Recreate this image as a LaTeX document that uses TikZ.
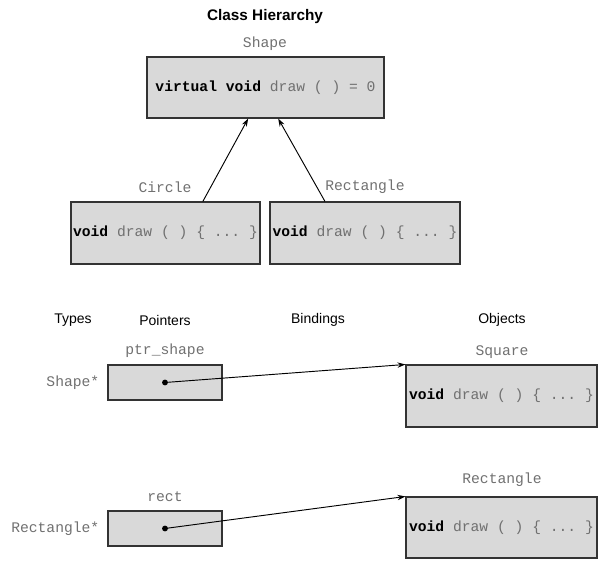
\documentclass[tikz,border=0pt]{standalone}
\usepackage{fontspec}
\setmainfont{Liberation Sans}
\setmonofont{Liberation Mono}
\usetikzlibrary{arrows.meta}
\definecolor{boxgray}{HTML}{D9D9D9}
\definecolor{codegray}{HTML}{707070}
\tikzset{
  classbox/.style={draw=black!80, fill=boxgray, line width=0.8pt, inner sep=0pt},
  codelabel/.style={font=\fontsize{11}{13}\selectfont\ttfamily, text=codegray},
  header/.style={font=\fontsize{10.5}{12}\selectfont},
  link/.style={-{Stealth[length=6pt,width=4pt]}, line width=0.7pt}
}
\newcommand{\kw}[1]{\textcolor{black}{\textbf{#1}}}
\begin{document}
\begin{tikzpicture}[x=0.75pt, y=-0.75pt]
        \useasboundingbox (0,0) rectangle (607,570);
        % Class Hierarchy
        \node[font=\fontsize{11.5}{13}\selectfont\bfseries] (title) at (265,17) {Class Hierarchy};
        \node[codelabel] (shapelbl) at (265,44) {Shape};
        \node[classbox, codelabel, minimum width=177.75pt, minimum height=45.75pt] (shape) at (265.5,87.5) {\kw{virtual} \kw{void} draw ( ) = 0};
        
        \node[codelabel] (circlelbl) at (165,187) {Circle};
        \node[classbox, codelabel, minimum width=141.75pt, minimum height=46.5pt] (circle) at (165.5,233) {\kw{void} draw ( ) \{ ... \}};
        
        \node[codelabel] (rectlbl) at (365,187) {Rectangle};
        \node[classbox, codelabel, minimum width=142.5pt, minimum height=46.5pt] (rectangle) at (365,233) {\kw{void} draw ( ) \{ ... \}};
        
        \draw[link] ([xshift=28pt]circle.north) -- ([xshift=-13pt]shape.south);
        \draw[link] ([xshift=-30pt]rectangle.north) -- ([xshift=9.5pt]shape.south);
        
        % Headings
        \node[header] (types) at (73,320) {Types};
        \node[header] (pointers) at (165,320) {Pointers};
        \node[header] (bindings) at (318,320) {Bindings};
        \node[header] (objects) at (502,320) {Objects};
        
        % Shape pointer
        \node[codelabel] (ptrlbl) at (165,351) {ptr\_shape};
        \node[classbox, minimum width=85.5pt, minimum height=26.25pt] (ptr) at (165,382.5) {};
        \node[codelabel, anchor=east] (ptrtype) at (104,383) {Shape*};
        \fill (ptr.center) circle (2.2pt);
        
        \node[codelabel] (squarelbl) at (502,352) {Square};
        \node[classbox, codelabel, minimum width=143.25pt, minimum height=46.5pt] (square) at (501.5,396) {\kw{void} draw ( ) \{ ... \}};
        \draw[link] (ptr.center) -- (square.north west);
        
        % Rectangle pointer
        \node[codelabel] (rptrlbl) at (165,497) {rect};
        \node[classbox, minimum width=85.5pt, minimum height=26.25pt] (rptr) at (165,528.5) {};
        \node[codelabel, anchor=east] (rptrtype) at (104,529) {Rectangle*};
        \fill (rptr.center) circle (2.2pt);
        
        \node[codelabel] (rectobjlbl) at (502,480) {Rectangle};
        \node[classbox, codelabel, minimum width=143.25pt, minimum height=45.75pt] (rectobj) at (501.5,527.5) {\kw{void} draw ( ) \{ ... \}};
        \draw[link] (rptr.center) -- (rectobj.north west);
    \end{tikzpicture}
\end{document}
